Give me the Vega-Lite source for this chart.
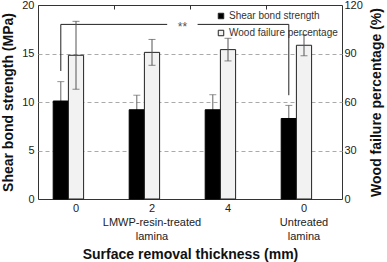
{
  "$schema": "https://vega.github.io/schema/vega-lite/v6.json",
  "width": 304,
  "height": 194,
  "autosize": {"type": "none"},
  "padding": {"left": 38, "top": 5, "right": 45, "bottom": 63},
  "config": {
    "font": "Liberation Sans",
    "view": {"stroke": "#333", "strokeWidth": 1},
    "axis": {"labelFont": "Liberation Sans", "titleFont": "Liberation Sans", "labelColor": "#222", "titleColor": "#111", "labelFontSize": 11, "titleFontSize": 14, "titleFontWeight": "bold"},
    "legend": {"labelFont": "Liberation Sans"}
  },
  "datasets": {
    "bars": [
      {"cat": "0", "measure": "Shear bond strength", "value": 10.1, "err": 2.0},
      {"cat": "2", "measure": "Shear bond strength", "value": 9.2, "err": 1.5},
      {"cat": "4", "measure": "Shear bond strength", "value": 9.2, "err": 1.55},
      {"cat": "Untreated", "measure": "Shear bond strength", "value": 8.3, "err": 1.35},
      {"cat": "0", "measure": "Wood failure percentage", "value": 88.9, "err": 21},
      {"cat": "2", "measure": "Wood failure percentage", "value": 90.7, "err": 8},
      {"cat": "4", "measure": "Wood failure percentage", "value": 92.4, "err": 7},
      {"cat": "Untreated", "measure": "Wood failure percentage", "value": 95.1, "err": 6.5}
    ],
    "bracketV": [
      {"cat": "0", "slot": "Shear bond strength", "value": 13.2, "value2": 18},
      {"cat": "Untreated", "slot": "Shear bond strength", "value": 10.7, "value2": 18}
    ],
    "bracketH": [
      {"seg": "a", "cat": "0", "slot": "Shear bond strength", "value": 18},
      {"seg": "a", "cat": "2", "slot": "p3", "value": 18},
      {"seg": "b", "cat": "4", "slot": "p0", "value": 18},
      {"seg": "b", "cat": "Untreated", "slot": "Shear bond strength", "value": 18}
    ],
    "stars": [
      {"cat": "2", "slot": "p4", "value": 18, "label": "**"}
    ]
  },
  "layer": [
    {
      "encoding": {
        "x": {
          "field": "cat", "type": "nominal",
          "scale": {"domain": ["0", "2", "4", "Untreated"], "paddingInner": 0, "paddingOuter": 0},
          "axis": {
            "title": "Surface removal thickness (mm)",
            "labelExpr": "datum.value == '2' ? ['2', 'LMWP-resin-treated', 'lamina'] : datum.value == 'Untreated' ? ['0', 'Untreated', 'lamina'] : datum.value",
            "ticks": false, "domain": false, "labelAngle": 0, "labelPadding": 3, "labelLineHeight": 14, "titlePadding": 6, "grid": false
          }
        },
        "y": {
          "field": "value", "type": "quantitative",
          "scale": {"domain": [0, 20], "nice": false},
          "axis": {
            "orient": "left", "title": "Shear bond strength (MPa)", "values": [0, 5, 10, 15, 20],
            "ticks": false, "domain": false, "grid": true, "gridDash": [4, 3], "gridColor": "#aaa",
            "gridOpacity": {"condition": {"test": "datum.value == 0 || datum.value == 20", "value": 0}, "value": 1},
            "labelPadding": 4, "titlePadding": 6
          }
        }
      },
      "layer": [
        {
          "data": {"name": "bars"},
          "transform": [{"filter": "datum.measure == 'Shear bond strength'"}],
          "mark": {"type": "errorbar", "color": "#666", "ticks": {"size": 7}},
          "encoding": {
            "xOffset": {"field": "measure", "scale": {"domain": ["p0", "Shear bond strength", "Wood failure percentage", "p3", "p4"], "paddingInner": 0, "paddingOuter": 0}},
            "yError": {"field": "err"}
          }
        },
        {
          "data": {"name": "bars"},
          "transform": [{"filter": "datum.measure == 'Shear bond strength'"}],
          "mark": {"type": "bar", "stroke": "#000", "strokeWidth": 1},
          "encoding": {
            "xOffset": {"field": "measure", "scale": {"domain": ["p0", "Shear bond strength", "Wood failure percentage", "p3", "p4"], "paddingInner": 0, "paddingOuter": 0}},
            "color": {
              "field": "measure", "type": "nominal",
              "scale": {"domain": ["Shear bond strength", "Wood failure percentage"], "range": ["#000000", "#f2f2f2"]},
              "legend": {"orient": "none", "legendX": 178, "legendY": 6, "title": null, "symbolType": "square", "symbolSize": 30, "symbolStrokeColor": "#000", "symbolStrokeWidth": 1, "labelFontSize": 10, "labelColor": "#333", "rowPadding": 7, "padding": 0, "labelOffset": 3}
            }
          }
        },
        {
          "data": {"name": "bracketV"},
          "mark": {"type": "rule", "color": "#222", "strokeWidth": 1},
          "encoding": {
            "xOffset": {"field": "slot", "scale": {"domain": ["p0", "Shear bond strength", "Wood failure percentage", "p3", "p4"], "paddingInner": 0, "paddingOuter": 0}},
            "y2": {"field": "value2"}
          }
        },
        {
          "data": {"name": "bracketH"},
          "mark": {"type": "line", "color": "#222", "strokeWidth": 1},
          "encoding": {
            "xOffset": {"field": "slot", "scale": {"domain": ["p0", "Shear bond strength", "Wood failure percentage", "p3", "p4"], "paddingInner": 0, "paddingOuter": 0}},
            "detail": {"field": "seg"}
          }
        },
        {
          "data": {"name": "stars"},
          "mark": {"type": "text", "fontSize": 12, "color": "#555", "baseline": "middle", "dy": 3},
          "encoding": {
            "xOffset": {"field": "slot", "scale": {"domain": ["p0", "Shear bond strength", "Wood failure percentage", "p3", "p4"], "paddingInner": 0, "paddingOuter": 0}},
            "text": {"field": "label"}
          }
        }
      ]
    },
    {
      "data": {"name": "bars"},
      "transform": [{"filter": "datum.measure == 'Wood failure percentage'"}],
      "encoding": {
        "x": {
          "field": "cat", "type": "nominal",
          "scale": {"domain": ["0", "2", "4", "Untreated"], "paddingInner": 0, "paddingOuter": 0},
          "axis": {"title": null, "labels": false, "domain": false, "ticks": true, "tickSize": -4, "bandPosition": 0, "tickColor": "#333", "grid": false}
        },
        "xOffset": {"field": "measure", "scale": {"domain": ["p0", "Shear bond strength", "Wood failure percentage", "p3", "p4"], "paddingInner": 0, "paddingOuter": 0}},
        "y": {
          "field": "value", "type": "quantitative",
          "scale": {"domain": [0, 120], "nice": false},
          "axis": {"orient": "right", "title": "Wood failure percentage (%)", "values": [0, 30, 60, 90, 120], "ticks": false, "domain": false, "grid": false, "labelPadding": 2, "titlePadding": 7, "titleAngle": 270, "titleBaseline": "top"}
        }
      },
      "layer": [
        {
          "mark": {"type": "bar", "stroke": "#222", "strokeWidth": 1},
          "encoding": {
            "color": {"field": "measure", "type": "nominal", "scale": {"domain": ["Shear bond strength", "Wood failure percentage"], "range": ["#000000", "#f2f2f2"]}}
          }
        },
        {
          "mark": {"type": "errorbar", "color": "#555", "ticks": {"size": 7}},
          "encoding": {"yError": {"field": "err"}}
        }
      ]
    }
  ],
  "resolve": {"scale": {"y": "independent"}, "axis": {"x": "independent"}}
}
